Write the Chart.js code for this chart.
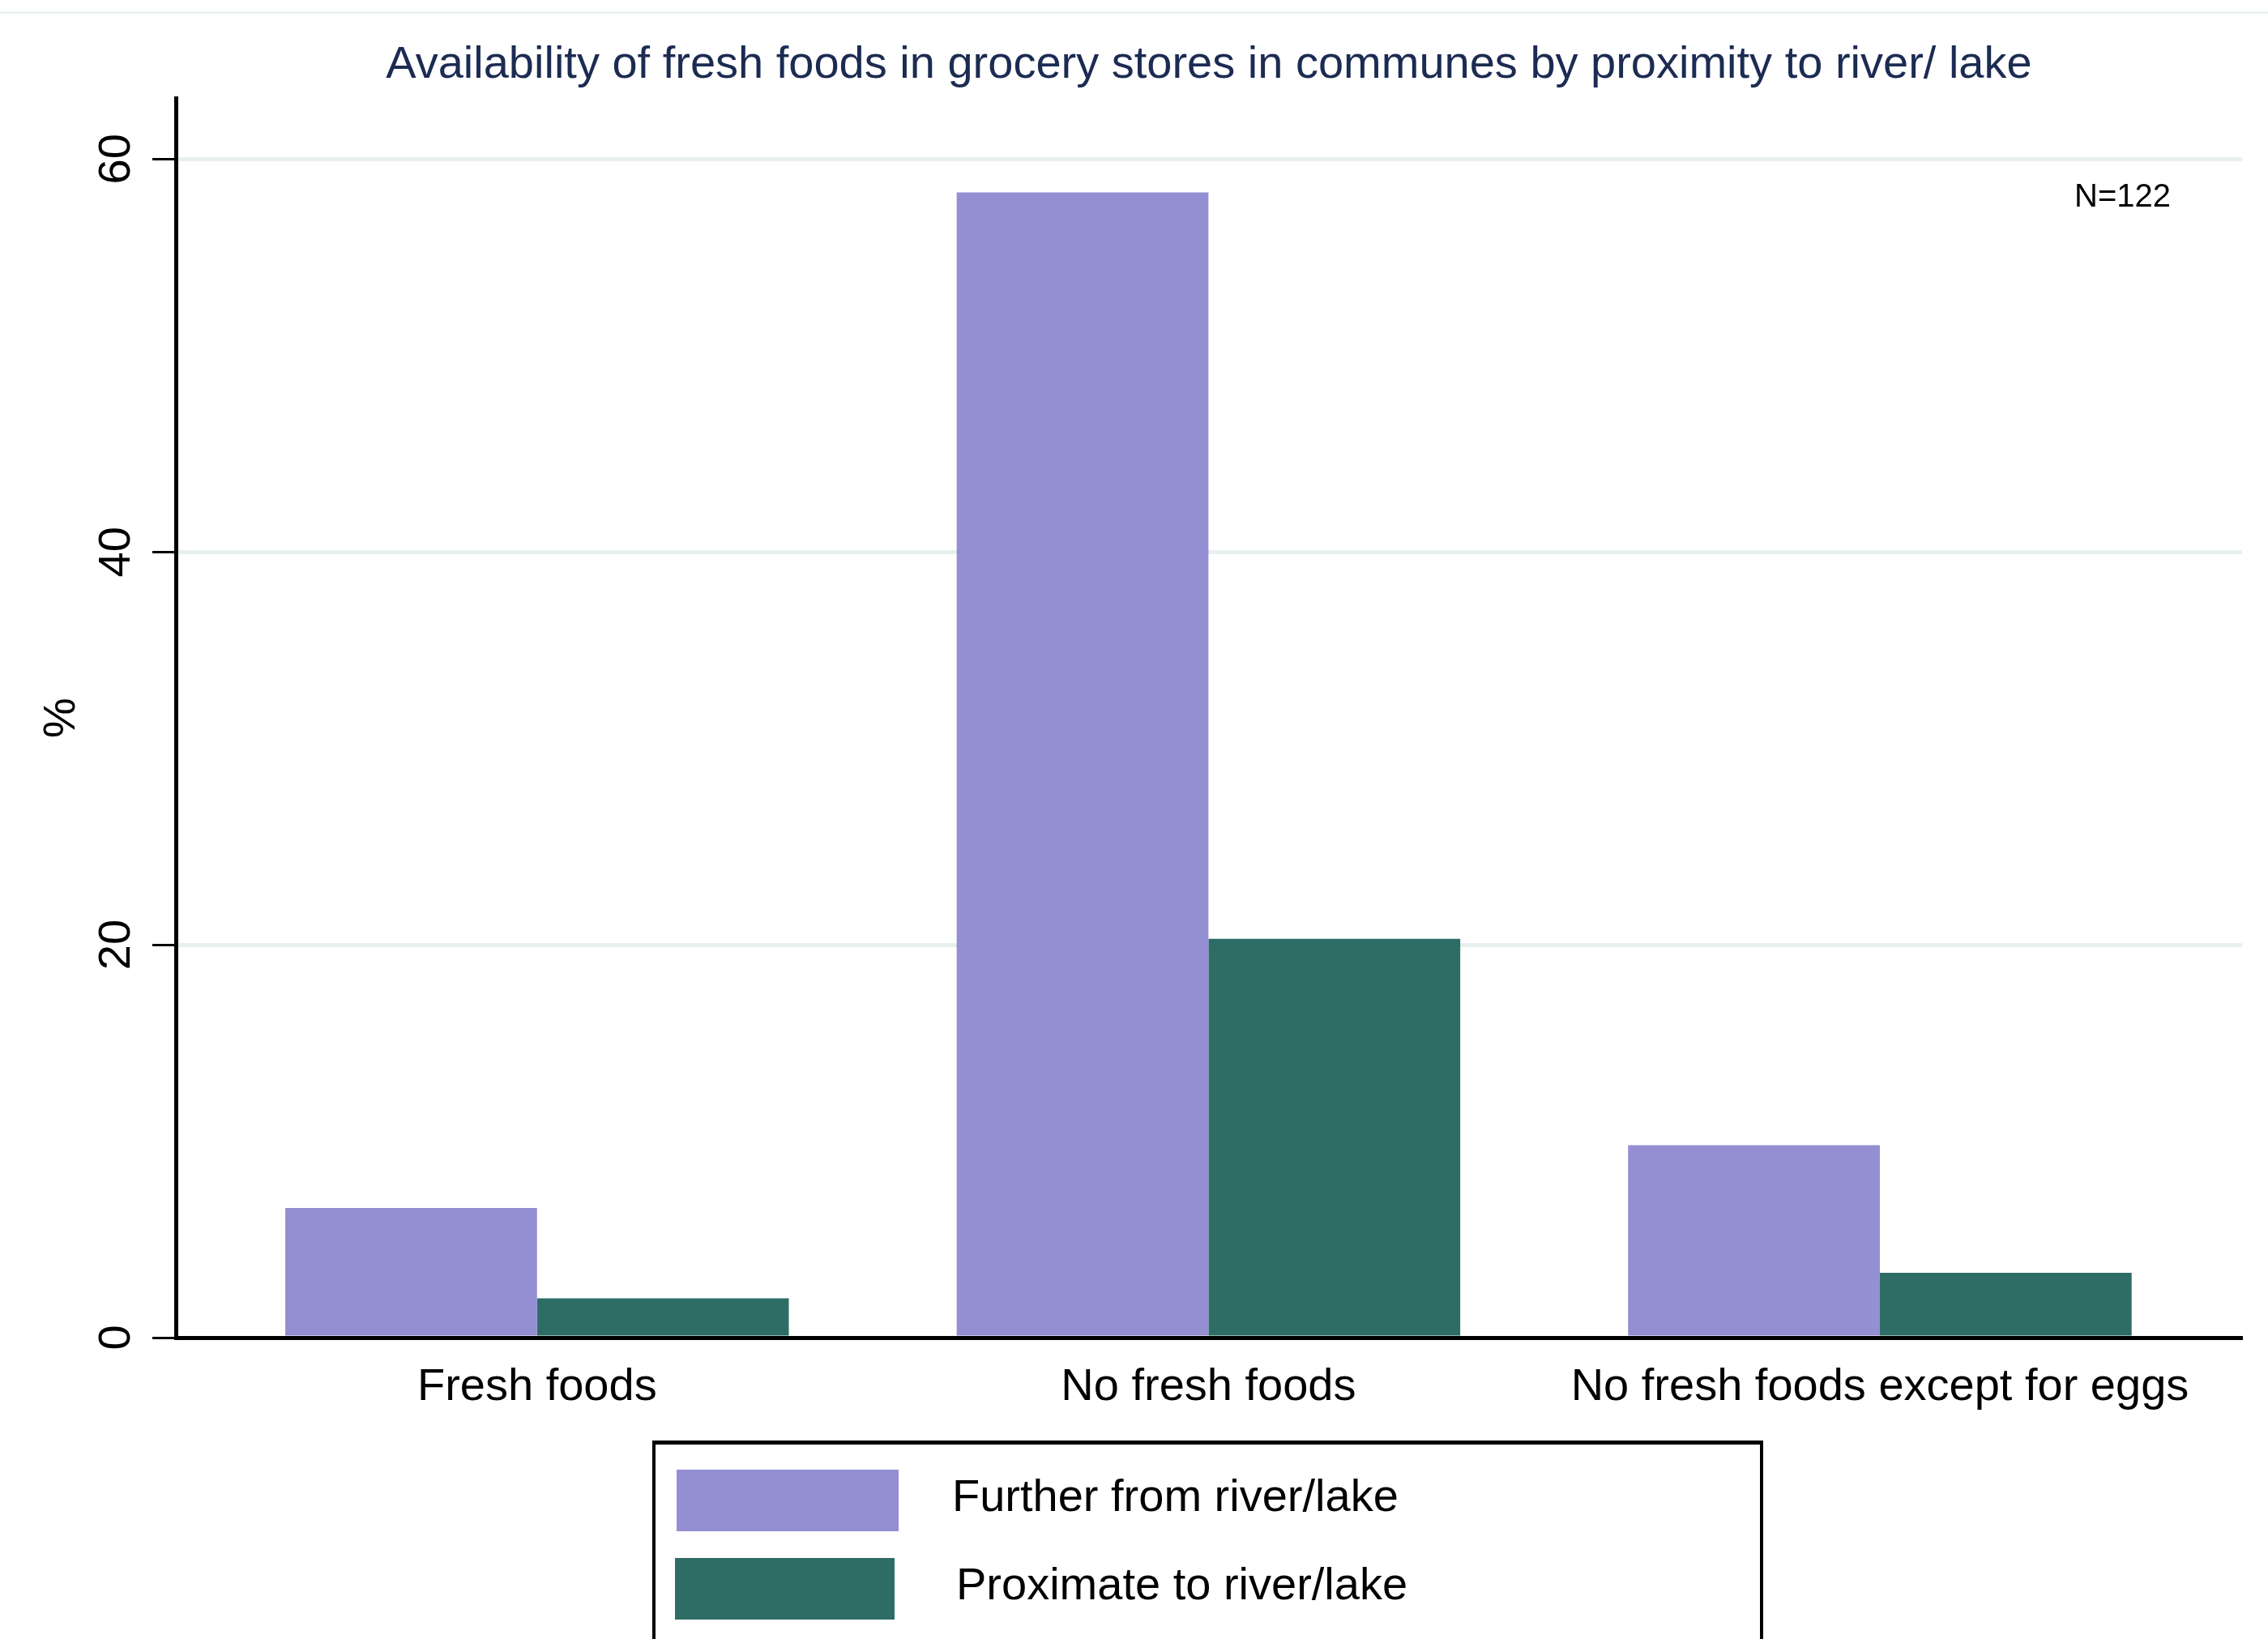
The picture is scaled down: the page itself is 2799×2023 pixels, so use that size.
<!DOCTYPE html>
<html>
<head>
<meta charset="utf-8">
<script src="https://cdn.jsdelivr.net/npm/chart.js@4.4.1/dist/chart.umd.min.js"></script>
<style>
  html, body { margin: 0; padding: 0; background: #fff; overflow: hidden; }
  #wrap { position: relative; width: 2799px; height: 2023px; }
  #topline { position: absolute; left: 0; top: 14px; width: 2799px; height: 3px; background: #edf3f3; }
  #legend { position: absolute; left: 805px; top: 1778px; width: 1371px; height: 320px;
            border: 4px solid #000; border-top-width: 5px; box-sizing: border-box; background: #fff; }
  .sw { position: absolute; }
  .lt { position: absolute; font-family: "Liberation Sans", Arial, sans-serif; font-size: 56px;
        line-height: 56px; color: #000; white-space: nowrap; }
</style>
</head>
<body>
<div id="wrap">
  <canvas id="chart" width="2799" height="2023"></canvas>
  <div id="topline"></div>
  <div id="legend"></div>
</div>
<script>
// data (percent of communes)
const categories = ['Fresh foods', 'No fresh foods', 'No fresh foods except for eggs'];
const seriesNames = ['Further from river/lake', 'Proximate to river/lake'];
const furtherPct = [6.6, 58.3, 9.8];
const proximatePct = [2.0, 20.3, 3.3];
const yTicks = [0, 20, 40, 60];
const colors = ['#948fd2', '#2e6d66'];

const FONT = '"Liberation Sans", Arial, sans-serif';

// small note in the top right corner
const noteN = {
  id: 'noteN',
  afterDraw(chart) {
    const ctx = chart.ctx, a = chart.chartArea;
    ctx.save();
    ctx.font = '40px ' + FONT;
    ctx.fillStyle = '#000';
    ctx.textAlign = 'left';
    ctx.textBaseline = 'alphabetic';
    ctx.fillText('N=122', a.right - 207, a.top + 134);
    ctx.restore();
  }
};

const chart = new Chart(document.getElementById('chart'), {
  type: 'bar',
  data: {
    datasets: [
      { label: seriesNames[0], data: furtherPct.map((v, i) => ({ x: i, y: v })), backgroundColor: colors[0] },
      { label: seriesNames[1], data: proximatePct.map((v, i) => ({ x: i, y: v })), backgroundColor: colors[1] }
    ]
  },
  options: {
    responsive: false,
    animation: false,
    devicePixelRatio: 1,
    layout: { padding: { left: 0, right: 32, top: 0, bottom: 0 } },
    datasets: { bar: { categoryPercentage: 0.75, barPercentage: 1.0, borderWidth: 0 } },
    plugins: {
      legend: { display: false },
      tooltip: { enabled: false },
      title: {
        display: true,
        fullSize: false,
        text: 'Availability of fresh foods in grocery stores in communes by proximity to river/ lake',
        color: '#1c2b52',
        font: { family: FONT, size: 56, weight: 'normal' },
        padding: { top: 47, bottom: 7 }
      }
    },
    scales: {
      x: {
        type: 'linear',
        offset: false,
        min: -0.538,
        max: 2.5395,
        afterBuildTicks: (s) => { s.ticks = categories.map((c, i) => ({ value: i })); },
        afterFit: (s) => { s.height = 372; },
        grid: { display: false, drawTicks: false },
        border: { display: true, color: '#000', width: 5 },
        ticks: {
          callback: (v) => categories[v] ?? '',
          color: '#000',
          font: { family: FONT, size: 56 },
          padding: 28,
          maxRotation: 0,
          minRotation: 0,
          autoSkip: false
        }
      },
      y: {
        min: 0,
        max: 63.1,
        afterBuildTicks: (s) => { s.ticks = yTicks.map(v => ({ value: v })); },
        afterFit: (s) => { s.width = 217; },
        grid: {
          color: (c) => (c.tick && c.tick.value === 0) ? 'rgba(0,0,0,0)' : '#e8eff1',
          lineWidth: 5,
          drawTicks: true,
          tickLength: 29,
          tickColor: '#000',
          tickWidth: 3
        },
        border: { display: true, color: '#000', width: 5 },
        ticks: {
          color: '#000',
          font: { family: FONT, size: 56 },
          padding: 12,
          minRotation: 90,
          maxRotation: 90,
          crossAlign: 'center'
        },
        title: {
          display: true,
          text: '%',
          color: '#000',
          font: { family: FONT, size: 56 },
          padding: { top: 43, bottom: 0 }
        }
      }
    }
  },
  plugins: [noteN]
});

// boxed legend below the plot, built from the datasets
const legend = document.getElementById('legend');
const swatchPos = [[835, 1814, 274, 76], [833, 1923, 271, 76]];
const textPos = [[1175, 1818], [1180, 1927]];
chart.data.datasets.forEach((ds, i) => {
  const sw = document.createElement('div');
  sw.className = 'sw';
  const [l, t, w, h] = swatchPos[i];
  sw.style.cssText = `left:${l - 809}px;top:${t - 1783}px;width:${w}px;height:${h}px;background:${ds.backgroundColor};`;
  legend.appendChild(sw);
  const tx = document.createElement('div');
  tx.className = 'lt';
  tx.style.left = (textPos[i][0] - 809) + 'px';
  tx.style.top = (textPos[i][1] - 1783) + 'px';
  tx.textContent = ds.label;
  legend.appendChild(tx);
});
</script>
</body>
</html>
